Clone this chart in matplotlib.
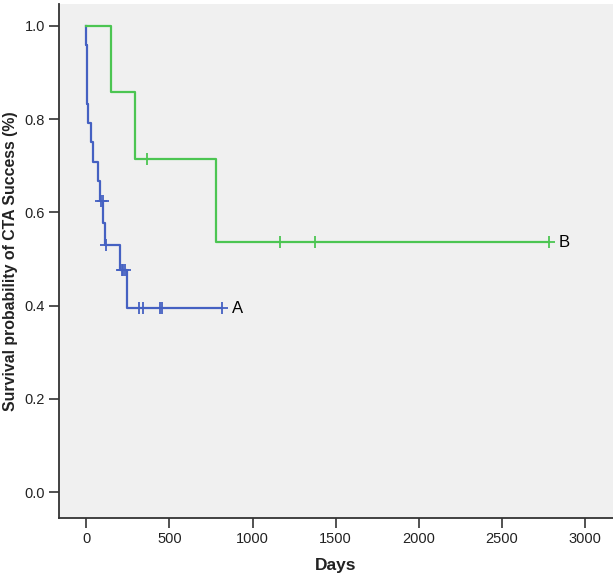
"""Kaplan-Meier style curves for CTA success, groups A and B."""

import matplotlib
matplotlib.use("Agg")
import matplotlib.pyplot as plt

PANEL_BG = "#f0f0f0"
SPINE = "#333333"
TEXT = "#222222"
BLUE = "#4561c2"
GREEN = "#4cc552"

# group A (blue)
a_event_days = [0, 1, 2, 3, 7, 28, 40, 68, 80, 102, 112, 200, 247]
a_surv = [0.958, 0.917, 0.875, 0.833, 0.792, 0.750, 0.708, 0.667, 0.625,
          0.577, 0.529, 0.476, 0.394]
a_censor_days = [90, 98, 117, 212, 222, 232, 315, 341, 441, 455, 819]
a_censor_surv = [0.625, 0.625, 0.529, 0.476, 0.476, 0.476,
                 0.394, 0.394, 0.394, 0.394, 0.394]

# group B (green)
b_event_days = [150, 291, 783]
b_surv = [0.857, 0.714, 0.536]
b_censor_days = [365, 1168, 1376, 2785]
b_censor_surv = [0.714, 0.536, 0.536, 0.536]

x_ticks = [0, 500, 1000, 1500, 2000, 2500, 3000]
y_ticks = [0.0, 0.2, 0.4, 0.6, 0.8, 1.0]

plt.rcParams["font.family"] = ["Liberation Sans", "DejaVu Sans"]


def _curve(ax, days, surv, c_days, c_surv, color, label):
    xs = [0] + days + [c_days[-1]]
    ys = [1.0] + surv + [surv[-1]]
    ax.step(xs, ys, where="post", color=color, lw=1.6, zorder=3)
    ax.plot(c_days, c_surv, ls="none", marker="+", ms=8, mew=1.3,
            color=color, zorder=4)
    ax.annotate(label, (c_days[-1], c_surv[-1]), xytext=(7, 0),
                textcoords="offset points", ha="left", va="center",
                fontsize=12, color="black")


fig = plt.figure(figsize=(6.13, 5.80), dpi=100, facecolor="white")
ax = fig.add_axes([0.0962, 0.1074, 0.9038, 0.8857])
ax.set_facecolor(PANEL_BG)

_curve(ax, a_event_days, a_surv, a_censor_days, a_censor_surv, BLUE, "A")
_curve(ax, b_event_days, b_surv, b_censor_days, b_censor_surv, GREEN, "B")

ax.set_xlim(-165, 3170)
ax.set_ylim(-0.0544, 1.0465)
ax.set_xticks(x_ticks)
ax.set_yticks(y_ticks)
ax.set_yticklabels([f"{v:.1f}" for v in y_ticks])

for side in ("top", "right"):
    ax.spines[side].set_visible(False)
for side in ("left", "bottom"):
    ax.spines[side].set_color(SPINE)
    ax.spines[side].set_linewidth(1.3)
ax.tick_params(axis="both", direction="out", length=7, width=1.2,
               color=SPINE, labelsize=10.5, labelcolor=TEXT, pad=3)

ax.set_xlabel("Days", fontsize=12.5, fontweight="bold", color=TEXT, labelpad=9)
ax.set_ylabel("Survival probability of CTA Success (%)", fontsize=11.4,
              fontweight="bold", color=TEXT, labelpad=5)

fig.savefig("out.png", dpi=100, facecolor="white")
